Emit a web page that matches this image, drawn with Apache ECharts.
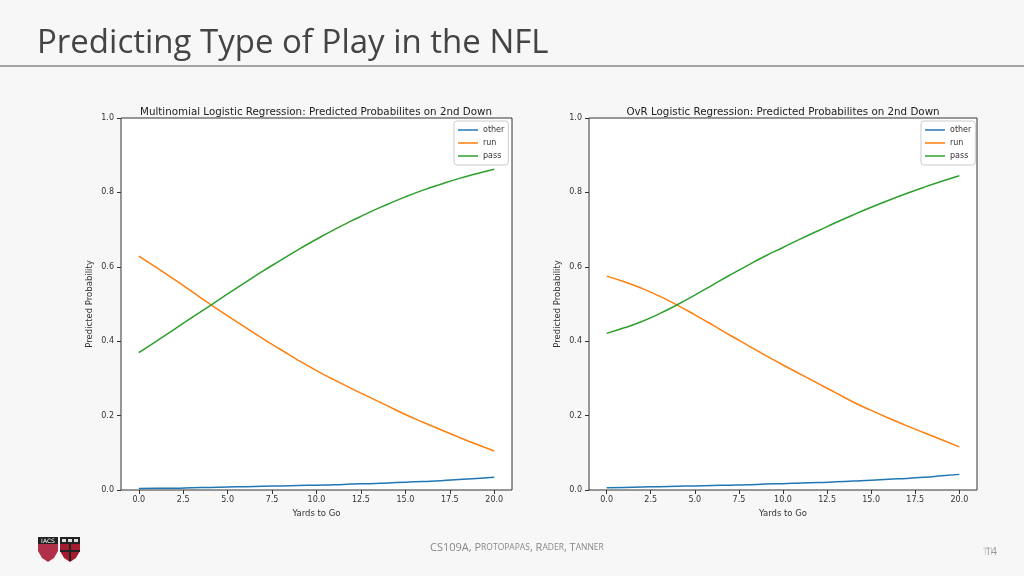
<!DOCTYPE html>
<html><head><meta charset="utf-8">
<script src="https://cdn.jsdelivr.net/npm/echarts@6/dist/echarts.min.js"></script>
<style>html,body{margin:0;padding:0;background:#f7f7f7}#c{width:1024px;height:576px}</style>
</head><body><div id="c"></div><script>
// ---- data ----
const yards = [0,1,2,3,4,5,6,7,8,9,10,11,12,13,14,15,16,17,18,19,20];
const xTicks = [0, 2.5, 5, 7.5, 10, 12.5, 15, 17.5, 20];
const seriesNames = ['other', 'run', 'pass'];
const multiOther = [0.004,0.005,0.005,0.006,0.007,0.008,0.009,0.010,0.011,0.012,0.013,0.014,0.016,0.017,0.019,0.021,0.023,0.025,0.028,0.031,0.034];
const multiRun   = [0.629,0.598,0.566,0.533,0.500,0.468,0.437,0.406,0.377,0.348,0.321,0.296,0.272,0.249,0.226,0.203,0.182,0.162,0.142,0.123,0.105];
const multiPass  = [0.369,0.400,0.432,0.464,0.495,0.527,0.558,0.589,0.618,0.647,0.674,0.700,0.724,0.747,0.768,0.788,0.806,0.822,0.837,0.850,0.862];
const ovrOther = [0.006,0.007,0.008,0.009,0.010,0.011,0.012,0.013,0.014,0.016,0.017,0.019,0.020,0.022,0.024,0.026,0.029,0.031,0.034,0.038,0.042];
const ovrRun   = [0.575,0.560,0.542,0.521,0.497,0.471,0.444,0.416,0.389,0.362,0.336,0.311,0.286,0.261,0.236,0.214,0.193,0.173,0.154,0.135,0.116];
const ovrPass  = [0.421,0.436,0.453,0.474,0.498,0.524,0.551,0.578,0.604,0.629,0.652,0.675,0.697,0.719,0.740,0.760,0.779,0.797,0.814,0.830,0.845];
const colors = ['#1f77b4', '#ff7f0e', '#2ca02c'];
const chartTitles = ['Multinomial Logistic Regression: Predicted Probabilites on 2nd Down',
                     'OvR Logistic Regression: Predicted Probabilites on 2nd Down'];

const pairs = arr => yards.map((x, i) => [x, arr[i]]);
const F = 'DejaVu Sans';
const grids = [
  {left: 121, top: 118, width: 391, height: 372},
  {left: 589, top: 118, width: 388, height: 372}
];
function xAxis(i) {
  return {
    type: 'value', gridIndex: i, min: -1, max: 21,
    name: 'Yards to Go', nameLocation: 'middle', nameGap: 19,
    nameTextStyle: {fontFamily: F, fontSize: 8.5, color: '#333'},
    axisLine: {show: false, onZero: false}, splitLine: {show: false},
    axisTick: {show: true, length: 4, lineStyle: {color: '#333'}, customValues: xTicks},
    axisLabel: {fontFamily: F, fontSize: 8, color: '#333', margin: 6, customValues: xTicks,
                formatter: v => v.toFixed(1)}
  };
}
function yAxis(i) {
  return {
    type: 'value', gridIndex: i, min: 0, max: 1, interval: 0.2,
    name: 'Predicted Probability', nameLocation: 'middle', nameGap: 27, nameRotate: 90,
    nameTextStyle: {fontFamily: F, fontSize: 8.5, color: '#333'},
    axisLine: {show: false, onZero: false}, splitLine: {show: false},
    axisTick: {show: true, length: 4, lineStyle: {color: '#333'}},
    axisLabel: {fontFamily: F, fontSize: 8, color: '#333', margin: 7, formatter: v => v.toFixed(1)}
  };
}
const dataSets = [[multiOther, multiRun, multiPass], [ovrOther, ovrRun, ovrPass]];
const series = [];
dataSets.forEach((set, gi) => set.forEach((arr, k) => series.push({
  type: 'line', name: seriesNames[k], xAxisIndex: gi, yAxisIndex: gi,
  data: pairs(arr), symbol: 'none', smooth: 0.5, silent: true,
  lineStyle: {color: colors[k], width: 1.5}, itemStyle: {color: colors[k]}
})));
function legend(left) {
  return {
    orient: 'vertical', left: left, top: 121,
    data: seriesNames.map(n => ({name: n, icon: 'rect'})),
    itemWidth: 20, itemHeight: 1.5, itemGap: 3, padding: [4, 4, 4, 4],
    backgroundColor: '#fff', borderColor: '#ccc', borderWidth: 1, borderRadius: 3,
    textStyle: {fontFamily: F, fontSize: 8, color: '#333', lineHeight: 10}
  };
}
const chart = echarts.init(document.getElementById('c'), null, {renderer: 'canvas'});
chart.setOption({
  backgroundColor: '#f7f7f7',
  animation: false,
  title: [
    {text: chartTitles[0], left: 311, top: 102, textAlign: 'center',
     textStyle: {fontFamily: F, fontSize: 10.3, fontWeight: 'normal', color: '#222'}},
    {text: chartTitles[1], left: 778, top: 102, textAlign: 'center',
     textStyle: {fontFamily: F, fontSize: 10.3, fontWeight: 'normal', color: '#222'}}
  ],
  grid: grids.map(g => Object.assign({show: true, backgroundColor: '#fff', borderColor: '#333', borderWidth: 1}, g)),
  xAxis: [xAxis(0), xAxis(1)],
  yAxis: [yAxis(0), yAxis(1)],
  legend: [legend(454), legend(921)],
  series: series,
  graphic: [
    {type: 'text', left: 37, top: 27, style: {text: 'Predicting Type of Play in the NFL',
      fontFamily: 'Open Sans', fontSize: 33, fill: '#444'}},
    {type: 'line', shape: {x1: 0, y1: 66, x2: 1024, y2: 66}, style: {stroke: '#888', lineWidth: 1.5}},
    {type: 'text', left: 430, top: 542, style: {
      text: '{a|CS109A, P}{b|ROTOPAPAS}{a|, R}{b|ADER}{a|, T}{b|ANNER}',
      rich: {a: {fontFamily: 'Open Sans', fontSize: 11, fill: '#888'},
             b: {fontFamily: 'Open Sans', fontSize: 8.5, fill: '#888'}}}},
    {type: 'text', left: 982, top: 547, style: {text: '11', fontFamily: 'Open Sans', fontSize: 10.5, fill: '#aaa', opacity: 0.6}},
    {type: 'text', left: 985, top: 547, style: {text: '14', fontFamily: 'Open Sans', fontSize: 10.5, fill: '#999'}},
    // logo
    {type: 'group', left: 38, top: 537, children: [
      {type: 'polygon', shape: {points: [[0,0],[20,0],[20,14],[16,21],[10,25],[4,21],[0,14]]}, style: {fill: '#b0304a'}},
      {type: 'rect', shape: {x: 0, y: 0, width: 20, height: 7}, style: {fill: '#222'}},
      {type: 'text', x: 10, y: 1, style: {text: 'IACS', fontFamily: 'DejaVu Sans', fontSize: 6, fill: '#fff', align: 'center'}},
      {type: 'polygon', shape: {points: [[22,0],[42,0],[42,14],[38,21],[32,25],[26,21],[22,14]]}, style: {fill: '#a51c30'}},
      {type: 'rect', shape: {x: 22, y: 0, width: 20, height: 7}, style: {fill: '#222'}},
      {type: 'rect', shape: {x: 24, y: 2, width: 4, height: 3}, style: {fill: '#ddd'}},
      {type: 'rect', shape: {x: 30, y: 2, width: 4, height: 3}, style: {fill: '#ddd'}},
      {type: 'rect', shape: {x: 36, y: 2, width: 4, height: 3}, style: {fill: '#ddd'}},
      {type: 'rect', shape: {x: 31, y: 7, width: 2, height: 17}, style: {fill: '#222'}},
      {type: 'rect', shape: {x: 22, y: 13, width: 20, height: 2}, style: {fill: '#222'}}
    ]}
  ]
});
</script></body></html>
